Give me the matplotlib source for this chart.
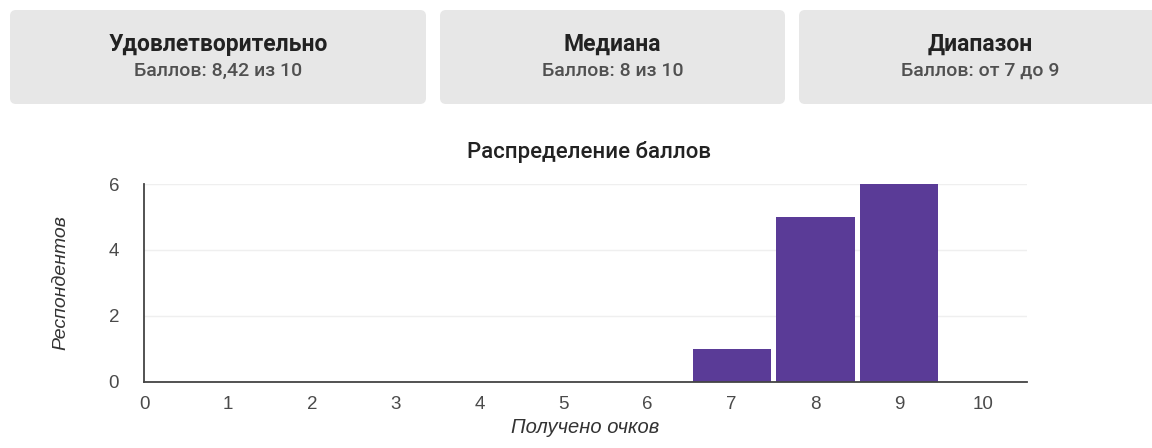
import matplotlib.pyplot as plt
from matplotlib.patches import FancyBboxPatch

plt.rcParams['font.family'] = ['Roboto', 'DejaVu Sans']

# summary cards
card_titles = ['Удовлетворительно', 'Медиана', 'Диапазон']
card_subs = ['Баллов: 8,42 из 10', 'Баллов: 8 из 10', 'Баллов: от 7 до 9']

# score histogram
scores = [0, 1, 2, 3, 4, 5, 6, 7, 8, 9, 10]
counts = [0, 0, 0, 0, 0, 0, 0, 1, 5, 6, 0]

W, H = 1152, 448
fig = plt.figure(figsize=(W / 100, H / 100), dpi=100)

# overlay in pixel coordinates for the cards and title
over = fig.add_axes([0, 0, 1, 1])
over.set_xlim(0, W)
over.set_ylim(H, 0)
over.axis('off')

cards = [(10, 426), (440, 785), (799, 1162)]
for (x0, x1), t, s in zip(cards, card_titles, card_subs):
    box = FancyBboxPatch((x0 + 6, 16), x1 - x0 - 12, 82,
                         boxstyle='round,pad=6', fc='#e7e7e7', ec='none')
    over.add_patch(box)
    cx = (x0 + x1) / 2
    over.text(cx, 44, t, ha='center', va='center', fontsize=16.5,
              fontweight='bold', color='#222222')
    over.text(cx, 71, s, ha='center', va='center', fontsize=14,
              fontweight='medium', color='#505050')

over.text(589, 152, 'Распределение баллов', ha='center', va='center',
          fontsize=16, fontweight='medium', color='#222222')

axis_font = ['Liberation Sans', 'DejaVu Sans']
ax = fig.add_axes([144 / W, 1 - 382 / H, (1027 - 144) / W, (382 - 184) / H])
ax.bar(scores, counts, width=0.93, color='#5a3b97', zorder=3)
ax.set_xlim(0, 10.52)
ax.set_ylim(0, 6)
ax.set_xticks(scores)
ax.set_yticks([0, 2, 4, 6])
ax.grid(axis='y', color='#efefef', lw=1, zorder=0)
for sp in ['top', 'right']:
    ax.spines[sp].set_visible(False)
for sp in ['left', 'bottom']:
    ax.spines[sp].set_color('#444444')
    ax.spines[sp].set_linewidth(1.3)
    ax.spines[sp].set_zorder(4)
ax.tick_params(length=0, labelsize=13.5, colors='#4a4a4a', pad=10)
ax.tick_params(axis='y', pad=18)
for lbl in ax.get_xticklabels() + ax.get_yticklabels():
    lbl.set_family(axis_font)
ax.set_xlabel('Получено очков', fontsize=14.5, style='italic',
              color='#333333', labelpad=4, family=axis_font)
ax.set_ylabel('Респондентов', fontsize=14, style='italic',
              color='#333333', labelpad=28, family=axis_font)

fig.savefig('out.png', dpi=100)
